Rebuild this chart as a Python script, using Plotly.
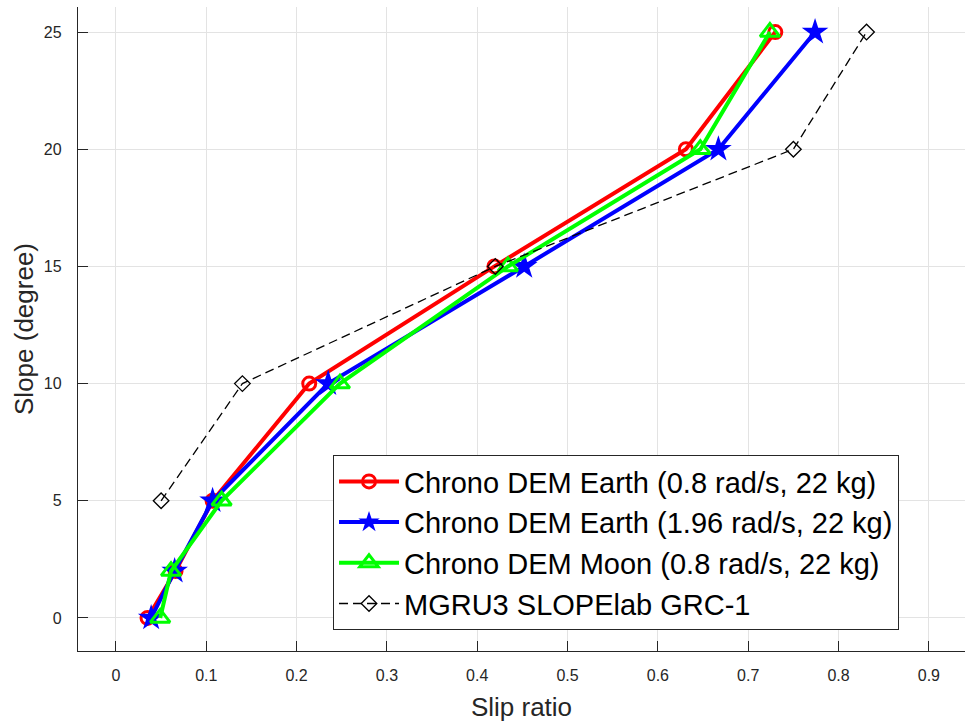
import plotly.graph_objects as go

# Slope angle (degrees) for each test run
slope_dem = [0, 2, 5, 10, 15, 20, 25]
slope_exp = [5, 10, 15, 20, 25]

# Slip ratio measured for each configuration
slip_earth_08 = [0.035, 0.066, 0.107, 0.214, 0.419, 0.631, 0.730]
slip_earth_196 = [0.039, 0.065, 0.107, 0.235, 0.452, 0.667, 0.774]
slip_moon_08 = [0.049, 0.061, 0.117, 0.248, 0.434, 0.647, 0.724]
slip_mgru3 = [0.050, 0.140, 0.420, 0.750, 0.831]

names = [
    "Chrono DEM Earth (0.8 rad/s, 22 kg)",
    "Chrono DEM Earth (1.96 rad/s, 22 kg)",
    "Chrono DEM Moon (0.8 rad/s, 22 kg)",
    "MGRU3 SLOPElab GRC-1",
]

x_ticks = [0, 0.1, 0.2, 0.3, 0.4, 0.5, 0.6, 0.7, 0.8, 0.9]
x_tick_text = ["0", "0.1", "0.2", "0.3", "0.4", "0.5", "0.6", "0.7", "0.8", "0.9"]
y_ticks = [0, 5, 10, 15, 20, 25]

font_family = "Liberation Sans, Arial, Helvetica, sans-serif"
axis_color = "#262626"

fig = go.Figure()

fig.add_trace(go.Scatter(
    x=slip_earth_08, y=slope_dem, name=names[0], mode="lines+markers",
    line=dict(color="#ff0000", width=4),
    marker=dict(symbol="circle-open", size=13, color="#ff0000", line=dict(width=3)),
))
fig.add_trace(go.Scatter(
    x=slip_earth_196, y=slope_dem, name=names[1], mode="lines+markers",
    line=dict(color="#0000ff", width=4),
    marker=dict(symbol="star", size=20, color="#0000ff", line=dict(width=0)),
))
fig.add_trace(go.Scatter(
    x=slip_moon_08, y=slope_dem, name=names[2], mode="lines+markers",
    line=dict(color="#00ff00", width=4),
    marker=dict(symbol="triangle-up-open", size=17, color="#00ff00", line=dict(width=3)),
))
fig.add_trace(go.Scatter(
    x=slip_mgru3, y=slope_exp, name=names[3], mode="lines+markers",
    line=dict(color="#000000", width=1.3, dash="9px,5px"),
    marker=dict(symbol="diamond-open", size=12, color="#000000", line=dict(width=1.3)),
))

fig.update_layout(
    width=965, height=725,
    margin=dict(l=78, r=0, t=7, b=74),
    paper_bgcolor="white", plot_bgcolor="white",
    font=dict(family=font_family, color=axis_color),
    showlegend=True,
    legend=dict(
        x=0.2875, y=0.3043, xanchor="left", yanchor="top",
        bgcolor="white", bordercolor=axis_color, borderwidth=1,
        font=dict(size=29, color="#000000", family=font_family),
        itemwidth=60, tracegroupgap=0,
    ),
)

fig.update_xaxes(
    range=[-0.042, 0.940],
    tickvals=x_ticks, ticktext=x_tick_text,
    ticks="inside", ticklen=10, tickwidth=1, tickcolor=axis_color,
    showline=True, linecolor=axis_color, linewidth=1.3,
    showgrid=True, gridcolor="#e3e3e3", gridwidth=1,
    zeroline=False,
    tickfont=dict(size=16, color=axis_color),
    ticklabelstandoff=10,
    title=dict(text="Slip ratio", font=dict(size=26, color=axis_color), standoff=14),
)
fig.update_yaxes(
    range=[-1.41, 26.07],
    tickvals=y_ticks,
    ticks="inside", ticklen=10, tickwidth=1, tickcolor=axis_color,
    showline=True, linecolor=axis_color, linewidth=1.3,
    showgrid=True, gridcolor="#e3e3e3", gridwidth=1,
    zeroline=False,
    tickfont=dict(size=16, color=axis_color),
    ticklabelstandoff=12,
    title=dict(text="Slope (degree)", font=dict(size=26, color=axis_color), standoff=2),
)

fig.write_html("out.html")
